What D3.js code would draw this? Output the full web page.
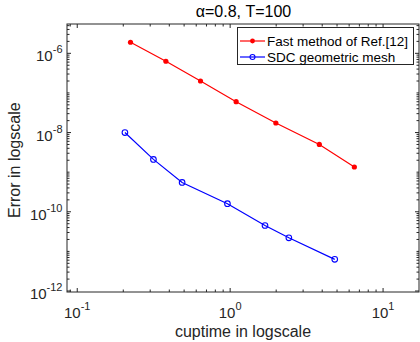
<!DOCTYPE html>
<html><head><meta charset="utf-8">
<script src="https://cdn.jsdelivr.net/npm/d3@7"></script>
<style>body{margin:0;background:#fff;} svg{display:block;} text{font-family:"Liberation Sans",Arial,sans-serif;}</style>
</head><body>
<svg id="c" width="420" height="342"></svg>
<script>
const seriesNames = ["Fast method of Ref.[12]", "SDC geometric mesh"];
const fastX = [0.223, 0.380, 0.640, 1.094, 1.99, 3.83, 6.49];
const fastY = [1.9e-6, 6.3e-7, 2.0e-7, 6.0e-8, 1.74e-8, 5.0e-9, 1.35e-9];
const sdcX = [0.205, 0.315, 0.485, 0.96, 1.69, 2.42, 4.83];
const sdcY = [1.0e-8, 2.1e-9, 5.5e-10, 1.6e-10, 4.5e-11, 2.2e-11, 6.3e-12];
const xTickExp = [-1, 0, 1];
const yTickExp = [-12, -10, -8, -6];
const titleText = "α=0.8, T=100";
const xLabel = "cuptime in logscale";
const yLabel = "Error in logscale";

const svg = d3.select("#c");
const L = 67, R = 419, T = 24, B = 292;
const x = d3.scaleLog().domain([Math.pow(10, -1.067), Math.pow(10, 1.235)]).range([L, R]);
const y = d3.scaleLog().domain([Math.pow(10, -12.025), Math.pow(10, -5.26)]).range([B, T]);
const axCol = "#262626";

const xMinor = [], yMinor = [];
for (let e = -2; e <= 1; e++) for (let m = 1; m <= 9; m++) { const v = m * Math.pow(10, e); if (v >= x.domain()[0] && v <= x.domain()[1]) xMinor.push(v); }
for (let e = -13; e <= -5; e++) for (let m = 1; m <= 9; m++) { const v = m * Math.pow(10, e); if (v >= y.domain()[0] && v <= y.domain()[1]) yMinor.push(v); }

const g = svg.append("g");
xMinor.forEach(v => {
  const major = xTickExp.some(e => Math.abs(Math.log10(v) - e) < 1e-9);
  const len = major ? 4 : 2.5;
  g.append("line").attr("x1", x(v)).attr("x2", x(v)).attr("y1", B).attr("y2", B - len).attr("stroke", axCol).attr("stroke-width", 1);
  g.append("line").attr("x1", x(v)).attr("x2", x(v)).attr("y1", T).attr("y2", T + len).attr("stroke", axCol).attr("stroke-width", 1);
});
yMinor.forEach(v => {
  const major = yTickExp.some(e => Math.abs(Math.log10(v) - e) < 1e-9);
  const len = major ? 4 : 2.5;
  g.append("line").attr("y1", y(v)).attr("y2", y(v)).attr("x1", L).attr("x2", L + len).attr("stroke", axCol).attr("stroke-width", 1);
  g.append("line").attr("y1", y(v)).attr("y2", y(v)).attr("x1", R).attr("x2", R - len).attr("stroke", axCol).attr("stroke-width", 1);
});
g.append("rect").attr("x", L).attr("y", T).attr("width", R - L).attr("height", B - T).attr("fill", "none").attr("stroke", axCol).attr("stroke-width", 1);

xTickExp.forEach(e => {
  const t = svg.append("text").attr("x", x(Math.pow(10, e))).attr("y", 318).attr("text-anchor", "middle").attr("fill", axCol).attr("font-size", 15);
  t.append("tspan").text("10");
  t.append("tspan").attr("dy", -8).attr("font-size", 11).text(e);
});
yTickExp.forEach(e => {
  const t = svg.append("text").attr("x", L - 4.5).attr("y", y(Math.pow(10, e)) + 8).attr("text-anchor", "end").attr("fill", axCol).attr("font-size", 15);
  t.append("tspan").text("10");
  t.append("tspan").attr("dy", -8).attr("font-size", 11).text(e);
});

svg.append("text").attr("x", 243).attr("y", 336.5).attr("text-anchor", "middle").attr("fill", axCol).attr("font-size", 16).text(xLabel);
svg.append("text").attr("transform", `translate(20,218) rotate(-90)`).attr("text-anchor", "start").attr("fill", axCol).attr("font-size", 16).text(yLabel);
svg.append("text").attr("x", 243.5).attr("y", 17).attr("text-anchor", "middle").attr("fill", "#000").attr("font-size", 16).text(titleText);

const line = d3.line().x(d => x(d[0])).y(d => y(d[1]));
const fast = fastX.map((v, i) => [v, fastY[i]]);
const sdc = sdcX.map((v, i) => [v, sdcY[i]]);
svg.append("path").datum(fast).attr("d", line).attr("fill", "none").attr("stroke", "#ff0000").attr("stroke-width", 1.2);
svg.selectAll(".fp").data(fast).enter().append("circle").attr("cx", d => x(d[0])).attr("cy", d => y(d[1])).attr("r", 2.6).attr("fill", "#ff0000");
svg.append("path").datum(sdc).attr("d", line).attr("fill", "none").attr("stroke", "#0000ff").attr("stroke-width", 1.2);
svg.selectAll(".sp").data(sdc).enter().append("circle").attr("cx", d => x(d[0])).attr("cy", d => y(d[1])).attr("r", 2.8).attr("fill", "none").attr("stroke", "#0000ff").attr("stroke-width", 1.1);

const lg = svg.append("g");
lg.append("rect").attr("x", 237.5).attr("y", 27.5).attr("width", 176).attr("height", 37).attr("fill", "#fff").attr("stroke", axCol).attr("stroke-width", 1);
const rows = [{ n: seriesNames[0], c: "#ff0000", filled: true, yy: 41 }, { n: seriesNames[1], c: "#0000ff", filled: false, yy: 57 }];
rows.forEach(r => {
  lg.append("line").attr("x1", 240).attr("x2", 265).attr("y1", r.yy).attr("y2", r.yy).attr("stroke", r.c).attr("stroke-width", 1.2);
  if (r.filled) lg.append("circle").attr("cx", 252.5).attr("cy", r.yy).attr("r", 2.4).attr("fill", r.c);
  else lg.append("circle").attr("cx", 252.5).attr("cy", r.yy).attr("r", 2.5).attr("fill", "none").attr("stroke", r.c).attr("stroke-width", 1.1);
  lg.append("text").attr("x", 267).attr("y", r.yy + 5).attr("fill", "#000").attr("font-size", 13.5).text(r.n);
});
</script>
</body></html>
